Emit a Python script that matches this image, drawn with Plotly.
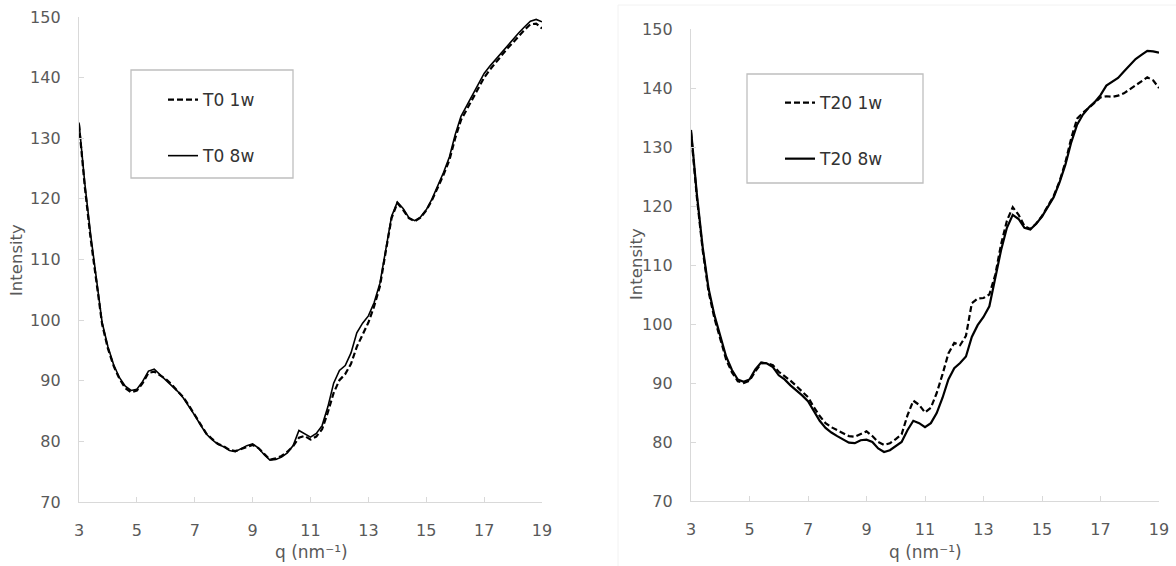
import plotly.graph_objects as go

q = [3.0, 3.2, 3.4, 3.6, 3.8, 4.0, 4.2, 4.4, 4.6, 4.8,
     5.0, 5.2, 5.4, 5.6, 5.8, 6.0, 6.2, 6.4, 6.6, 6.8,
     7.0, 7.2, 7.4, 7.6, 7.8, 8.0, 8.2, 8.4, 8.6, 8.8,
     9.0, 9.2, 9.4, 9.6, 9.8, 10.0, 10.2, 10.4, 10.6, 10.8,
     11.0, 11.2, 11.4, 11.6, 11.8, 12.0, 12.2, 12.4, 12.6, 12.8,
     13.0, 13.2, 13.4, 13.6, 13.8, 14.0, 14.2, 14.4, 14.6, 14.8,
     15.0, 15.2, 15.4, 15.6, 15.8, 16.0, 16.2, 16.4, 16.6, 16.8,
     17.0, 17.2, 17.4, 17.6, 17.8, 18.0, 18.2, 18.4, 18.6, 18.8, 19.0]

t0_1w = [132.3, 122.0, 113.5, 106.0, 99.3, 95.3, 92.4, 90.3, 88.8, 88.1,
         88.4, 89.6, 91.3, 91.5, 90.9, 90.3, 89.4, 88.4, 87.3, 85.9,
         84.4, 82.8, 81.3, 80.4, 79.6, 79.2, 78.6, 78.4, 78.7, 79.1,
         79.4, 78.9, 77.9, 77.0, 77.2, 77.6, 78.3, 79.2, 80.6, 80.9,
         80.3, 80.8, 82.0, 84.8, 88.0, 90.1, 91.1, 92.8, 95.6, 97.6,
         99.6, 102.3, 105.6, 111.3, 116.8, 119.3, 118.2, 116.8, 116.3, 116.9,
         118.1, 119.8, 121.8, 124.0, 126.4, 130.0, 133.0, 134.8, 136.4, 138.2,
         140.0, 141.3, 142.5, 143.7, 144.8, 145.8, 146.9, 147.9, 148.8, 148.9, 148.1]

t0_8w = [132.6, 122.6, 114.2, 106.6, 99.6, 95.6, 92.6, 90.5, 89.1, 88.4,
         88.6, 89.9, 91.6, 91.9, 91.0, 90.2, 89.3, 88.3, 87.2, 85.8,
         84.3, 82.7, 81.2, 80.3, 79.5, 79.1, 78.5, 78.3, 78.8, 79.3,
         79.6, 78.9, 77.8, 76.9, 77.0, 77.4, 78.1, 79.3, 81.8, 81.3,
         80.7, 81.3, 82.6, 85.7, 89.6, 91.7, 92.5, 94.6, 97.9, 99.5,
         100.7, 102.9, 106.1, 111.6, 117.1, 119.5, 118.4, 116.9, 116.4, 117.0,
         118.2, 120.0, 122.1, 124.4, 126.9, 130.6, 133.6, 135.4, 137.1, 138.9,
         140.7, 141.9, 143.0, 144.2, 145.3, 146.3, 147.4, 148.4, 149.3, 149.6, 149.2]

t20_1w = [132.5, 121.5, 112.5, 105.5, 101.0, 97.5, 94.0, 91.8, 90.3, 90.0,
          90.4, 92.0, 93.3, 93.4, 93.0, 91.9, 91.2, 90.4, 89.5, 88.5,
          87.6, 85.9, 84.4, 83.2, 82.5, 82.0, 81.5, 81.0, 80.9, 81.3,
          81.8, 81.0, 80.0, 79.5, 79.8, 80.5, 81.3, 84.5, 87.0, 86.3,
          85.0, 85.8, 88.3, 91.5, 95.0, 96.8, 96.4, 98.0, 103.5, 104.3,
          104.4, 105.0, 108.3, 113.5, 117.5, 119.8, 118.5, 116.6, 116.1, 117.0,
          118.3, 120.0, 121.7, 124.2, 127.4, 131.5, 134.8, 135.8, 136.6, 137.5,
          138.4, 138.6, 138.5, 138.7, 139.1, 139.8, 140.5, 141.1, 141.8, 141.3, 140.0]

t20_8w = [132.9, 122.0, 113.0, 106.0, 101.5, 98.0, 94.5, 92.2, 90.6, 90.2,
          90.6, 92.3, 93.5, 93.3, 92.7, 91.3, 90.6, 89.6, 88.8, 87.9,
          86.9, 85.2, 83.6, 82.4, 81.6, 81.0, 80.4, 79.9, 79.8, 80.3,
          80.4, 80.0, 78.9, 78.3, 78.6, 79.3, 80.0, 82.0, 83.6, 83.2,
          82.5, 83.2, 84.9, 87.5, 90.6, 92.5, 93.4, 94.5, 97.8, 99.8,
          101.2, 103.0, 107.5, 112.5, 116.3, 118.5, 117.8, 116.3, 116.0, 117.0,
          118.2, 119.9, 121.5, 124.0, 127.0, 130.8, 133.8, 135.5, 136.7, 137.6,
          138.8, 140.4, 141.0, 141.7, 142.8, 143.9, 144.9, 145.6, 146.3, 146.2, 146.0]

x_ticks = [3, 5, 7, 9, 11, 13, 15, 17, 19]
y_ticks = [70, 80, 90, 100, 110, 120, 130, 140, 150]
x_title = "q (nm⁻¹)"
y_title = "Intensity"

W, H = 1176, 566
FONT = "DejaVu Sans"
GRAY = "#595959"
AX = "#d9d9d9"

def px(x):
    return x / W

def py(y):
    return 1 - y / H

fig = go.Figure()

fig.add_trace(go.Scatter(x=q, y=t0_1w, mode="lines", name="T0 1w",
                         line=dict(color="black", width=2.2, dash="6px,3px"),
                         xaxis="x", yaxis="y", legend="legend", legendgroup="a"))
fig.add_trace(go.Scatter(x=q, y=t0_8w, mode="lines", name="T0 8w",
                         line=dict(color="black", width=1.6),
                         xaxis="x", yaxis="y", legend="legend", legendgroup="b"))
fig.add_trace(go.Scatter(x=q, y=t20_1w, mode="lines", name="T20 1w",
                         line=dict(color="black", width=2.2, dash="6px,3px"),
                         xaxis="x2", yaxis="y2", legend="legend2", legendgroup="c"))
fig.add_trace(go.Scatter(x=q, y=t20_8w, mode="lines", name="T20 8w",
                         line=dict(color="black", width=2.2),
                         xaxis="x2", yaxis="y2", legend="legend2", legendgroup="d"))

tickfont = dict(family=FONT, size=16, color=GRAY)

def xaxis(domain, anchor):
    return dict(domain=domain, anchor=anchor, range=[3, 19], tickvals=x_ticks,
                showgrid=False, zeroline=False, showline=True, linecolor=AX, linewidth=1.3,
                ticks="inside", ticklen=5, tickcolor=AX, tickwidth=1.3, automargin=False,
                tickfont=tickfont, ticklabelstandoff=14, fixedrange=True)

def yaxis(domain, anchor):
    return dict(domain=domain, anchor=anchor, range=[70, 150], tickvals=y_ticks,
                showgrid=False, zeroline=False, showline=True, linecolor=AX, linewidth=1.3,
                ticks="inside", ticklen=5, tickcolor=AX, tickwidth=1.3, automargin=False,
                tickfont=tickfont, ticklabelstandoff=14, fixedrange=True)

legfont = dict(family=FONT, size=17, color="#333333")

fig.update_layout(
    width=W, height=H,
    margin=dict(l=0, r=0, t=0, b=0),
    paper_bgcolor="white", plot_bgcolor="white",
    xaxis=xaxis([px(79), px(542)], "y"),
    yaxis=yaxis([py(502), py(17)], "x"),
    xaxis2=xaxis([px(691), px(1159)], "y2"),
    yaxis2=yaxis([py(501), py(29)], "x2"),
    legend=dict(x=px(163), y=py(82), xanchor="left", yanchor="top",
                bgcolor="rgba(0,0,0,0)", borderwidth=0, font=legfont,
                tracegroupgap=31, itemwidth=30),
    legend2=dict(x=px(780), y=py(85), xanchor="left", yanchor="top",
                 bgcolor="rgba(0,0,0,0)", borderwidth=0, font=legfont,
                 tracegroupgap=31, itemwidth=30),
    shapes=[
        dict(type="rect", xref="paper", yref="paper", x0=px(131), x1=px(293),
             y0=py(178), y1=py(70), line=dict(color="#bfbfbf", width=1.3)),
        dict(type="rect", xref="paper", yref="paper", x0=px(747), x1=px(923),
             y0=py(183), y1=py(74), line=dict(color="#bfbfbf", width=1.3)),
        dict(type="line", xref="paper", yref="paper", x0=px(618), x1=px(1176),
             y0=py(5), y1=py(5), line=dict(color="#f2f2f2", width=1)),
        dict(type="line", xref="paper", yref="paper", x0=px(618), x1=px(618),
             y0=py(5), y1=0, line=dict(color="#f2f2f2", width=1)),
    ],
    annotations=[
        dict(text=x_title, xref="paper", yref="paper", x=px(311), y=py(552),
             xanchor="center", yanchor="middle", showarrow=False,
             font=dict(family=FONT, size=17, color=GRAY)),
        dict(text=x_title, xref="paper", yref="paper", x=px(925), y=py(552),
             xanchor="center", yanchor="middle", showarrow=False,
             font=dict(family=FONT, size=17, color=GRAY)),
        dict(text=y_title, xref="paper", yref="paper", x=px(17), y=py(260),
             xanchor="center", yanchor="middle", showarrow=False, textangle=-90,
             font=dict(family=FONT, size=16.5, color=GRAY)),
        dict(text=y_title, xref="paper", yref="paper", x=px(636), y=py(264),
             xanchor="center", yanchor="middle", showarrow=False, textangle=-90,
             font=dict(family=FONT, size=16.5, color=GRAY)),
    ],
    showlegend=True,
)

fig.write_html("out.html", config={"displayModeBar": False},
               post_script="document.body.style.margin='0px';document.body.style.overflow='hidden';")
